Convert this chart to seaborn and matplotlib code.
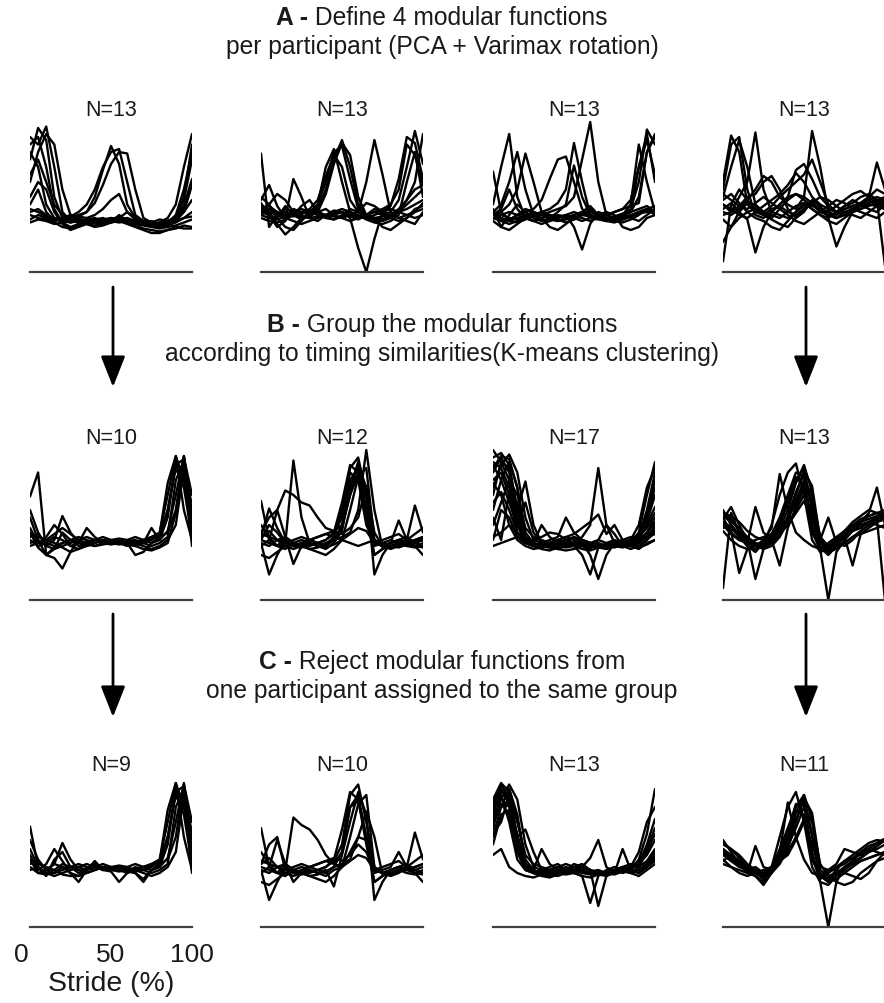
import pandas as pd
import matplotlib
matplotlib.use('Agg')
import matplotlib.pyplot as plt
from matplotlib.transforms import ScaledTranslation
import seaborn as sns

# stride samples (%), every curve below is read at these points
stride = list(range(0, 101, 5))

# A - 4 modular functions per participant
a1 = [
    [75, 96, 88, 50, 36, 33, 34, 32, 33, 35, 36, 34, 33, 32, 33, 34, 32, 33, 38, 55, 80],
    [90, 85, 97, 70, 40, 34, 33, 35, 36, 34, 35, 37, 35, 33, 32, 31, 33, 36, 45, 70, 92],
    [60, 80, 92, 85, 55, 38, 34, 33, 34, 33, 36, 35, 34, 33, 34, 33, 32, 34, 36, 42, 60],
    [85, 90, 70, 42, 33, 30, 32, 34, 35, 36, 34, 33, 34, 35, 33, 32, 30, 31, 33, 36, 40],
    [45, 55, 40, 34, 35, 36, 38, 40, 50, 68, 84, 72, 45, 36, 33, 32, 31, 33, 34, 40, 58],
    [40, 42, 38, 36, 35, 37, 40, 45, 55, 70, 80, 82, 60, 38, 34, 33, 32, 34, 36, 48, 75],
    [38, 36, 35, 34, 36, 38, 37, 40, 46, 58, 72, 80, 79, 55, 36, 33, 31, 32, 35, 50, 85],
    [42, 40, 37, 35, 34, 36, 37, 36, 38, 42, 48, 52, 40, 35, 34, 33, 35, 34, 36, 44, 62],
    [35, 38, 36, 33, 30, 29, 31, 34, 35, 34, 33, 38, 34, 32, 31, 30, 29, 30, 31, 33, 35],
    [80, 70, 45, 36, 34, 33, 35, 34, 33, 35, 34, 36, 40, 36, 33, 31, 30, 32, 34, 36, 37],
    [50, 60, 55, 40, 32, 28, 30, 32, 31, 33, 34, 35, 33, 31, 29, 28, 27, 28, 29, 31, 30],
    [33, 35, 34, 32, 33, 35, 36, 34, 33, 32, 33, 35, 36, 34, 33, 32, 33, 34, 36, 40, 48],
    [65, 75, 60, 45, 38, 35, 33, 32, 30, 31, 33, 34, 32, 30, 28, 26, 26, 28, 30, 29, 29],
]
a2 = [
    [79, 30, 38, 42, 40, 38, 36, 37, 38, 40, 42, 40, 37, 36, 38, 40, 44, 62, 90, 86, 62],
    [48, 58, 44, 36, 62, 50, 36, 34, 38, 41, 40, 37, 35, 38, 40, 38, 40, 48, 70, 94, 72],
    [42, 45, 52, 48, 40, 37, 36, 45, 70, 82, 60, 40, 36, 38, 40, 42, 45, 55, 85, 78, 58],
    [40, 38, 36, 44, 38, 35, 38, 42, 55, 75, 88, 70, 45, 38, 36, 35, 37, 40, 48, 60, 92],
    [38, 36, 35, 37, 40, 42, 40, 45, 60, 80, 84, 62, 42, 37, 35, 34, 36, 40, 45, 50, 55],
    [44, 40, 38, 40, 38, 36, 37, 40, 52, 72, 86, 78, 50, 38, 36, 37, 38, 40, 42, 45, 48],
    [36, 34, 33, 35, 38, 40, 42, 48, 64, 78, 70, 48, 40, 60, 88, 65, 40, 36, 38, 40, 42],
    [40, 42, 40, 38, 37, 39, 41, 40, 38, 39, 40, 36, 16, 0, 22, 40, 42, 40, 38, 36, 38],
    [42, 40, 32, 25, 30, 36, 38, 40, 37, 35, 38, 42, 40, 36, 34, 35, 38, 42, 48, 55, 58],
    [50, 45, 36, 30, 28, 34, 40, 38, 36, 38, 40, 38, 36, 38, 42, 40, 36, 34, 36, 40, 46],
    [40, 44, 40, 36, 34, 32, 34, 36, 38, 37, 36, 38, 40, 46, 44, 40, 38, 36, 34, 32, 40],
    [46, 38, 30, 34, 42, 40, 38, 40, 42, 38, 36, 34, 36, 38, 36, 30, 28, 32, 36, 42, 44],
    [38, 42, 38, 36, 38, 44, 48, 40, 36, 35, 37, 40, 38, 35, 33, 32, 34, 38, 60, 80, 50],
]
a3 = [
    [45, 70, 92, 50, 36, 34, 36, 38, 37, 36, 38, 40, 38, 36, 35, 37, 39, 40, 42, 44, 40],
    [40, 45, 60, 80, 55, 38, 35, 34, 36, 38, 40, 38, 37, 36, 38, 40, 42, 48, 70, 92, 60],
    [38, 40, 45, 55, 79, 60, 40, 35, 34, 36, 38, 40, 36, 35, 34, 36, 38, 42, 60, 95, 85],
    [67, 40, 35, 38, 40, 42, 48, 62, 75, 77, 60, 42, 38, 36, 35, 34, 36, 38, 40, 42, 38],
    [36, 34, 32, 34, 36, 38, 40, 42, 46, 55, 86, 60, 38, 36, 34, 35, 37, 40, 70, 88, 65],
    [38, 36, 34, 33, 35, 37, 38, 40, 42, 44, 50, 75, 100, 60, 38, 36, 38, 40, 50, 80, 90],
    [36, 35, 34, 36, 37, 38, 40, 38, 36, 38, 30, 15, 32, 40, 38, 36, 35, 37, 40, 42, 40],
    [40, 38, 36, 35, 38, 40, 38, 36, 40, 45, 71, 50, 38, 36, 34, 36, 38, 45, 85, 60, 40],
    [34, 30, 28, 32, 36, 38, 36, 30, 28, 32, 36, 38, 40, 38, 36, 34, 33, 35, 38, 42, 44],
    [42, 30, 38, 45, 40, 36, 34, 36, 38, 37, 35, 40, 44, 38, 36, 37, 38, 36, 34, 38, 42],
    [38, 42, 55, 42, 36, 34, 32, 34, 36, 38, 36, 34, 36, 38, 40, 38, 30, 28, 30, 36, 38],
    [36, 38, 40, 38, 36, 34, 36, 38, 35, 33, 35, 38, 42, 36, 34, 33, 35, 37, 39, 40, 41],
    [40, 36, 34, 38, 42, 40, 38, 36, 34, 35, 37, 36, 34, 36, 38, 40, 42, 44, 46, 80, 92],
]
a4 = [
    [60, 91, 80, 45, 40, 38, 42, 44, 40, 38, 42, 45, 40, 38, 36, 40, 42, 45, 48, 44, 42],
    [55, 85, 90, 55, 38, 36, 40, 45, 50, 52, 48, 44, 42, 40, 38, 42, 44, 46, 50, 55, 52],
    [50, 70, 88, 70, 45, 40, 38, 36, 40, 44, 46, 42, 38, 36, 40, 44, 48, 45, 42, 40, 45],
    [45, 40, 50, 60, 93, 55, 40, 38, 36, 40, 44, 46, 42, 38, 36, 38, 40, 44, 46, 48, 50],
    [40, 38, 42, 48, 55, 64, 60, 50, 45, 42, 50, 94, 70, 40, 36, 38, 40, 42, 45, 44, 42],
    [7, 45, 55, 48, 42, 40, 44, 50, 55, 60, 65, 75, 60, 45, 40, 38, 42, 44, 46, 48, 46],
    [42, 46, 40, 35, 13, 30, 40, 45, 50, 68, 72, 62, 50, 44, 40, 42, 44, 46, 48, 50, 48],
    [38, 40, 44, 50, 52, 60, 64, 55, 42, 36, 40, 48, 44, 36, 17, 30, 40, 46, 50, 73, 55],
    [45, 42, 38, 36, 40, 44, 48, 52, 58, 66, 60, 50, 45, 42, 40, 44, 46, 50, 52, 48, 4],
    [20, 30, 36, 40, 42, 38, 35, 32, 30, 36, 42, 46, 50, 48, 44, 40, 38, 36, 40, 44, 46],
    [48, 52, 46, 40, 36, 34, 30, 28, 34, 40, 46, 42, 38, 34, 32, 36, 40, 42, 44, 46, 48],
    [35, 30, 40, 46, 44, 40, 36, 42, 48, 52, 50, 46, 42, 40, 44, 48, 52, 54, 50, 46, 44],
    [52, 48, 44, 42, 46, 50, 46, 42, 38, 34, 32, 36, 40, 44, 48, 46, 42, 40, 38, 36, 40],
]

# B - grouped by timing (K-means)
b1 = [
    [69, 85, 30, 35, 38, 40, 38, 39, 40, 39, 38, 37, 38, 39, 40, 42, 45, 70, 96, 60, 40],
    [60, 45, 36, 40, 56, 45, 38, 36, 38, 40, 39, 38, 37, 38, 40, 41, 42, 60, 90, 94, 50],
    [55, 40, 30, 34, 45, 40, 36, 38, 40, 39, 38, 40, 39, 37, 38, 40, 44, 78, 96, 80, 45],
    [48, 38, 42, 50, 44, 36, 38, 48, 42, 38, 40, 38, 37, 36, 38, 48, 40, 46, 70, 96, 58],
    [45, 35, 30, 28, 21, 32, 40, 42, 40, 38, 37, 38, 39, 40, 38, 36, 38, 42, 80, 92, 62],
    [42, 44, 38, 36, 38, 40, 42, 40, 38, 40, 39, 38, 40, 42, 40, 38, 40, 55, 92, 85, 50],
    [40, 36, 38, 42, 40, 36, 34, 36, 38, 40, 38, 40, 38, 30, 32, 38, 42, 45, 60, 95, 70],
    [38, 40, 36, 34, 36, 38, 40, 38, 36, 38, 40, 41, 40, 38, 36, 34, 36, 40, 50, 88, 36],
    [44, 42, 40, 38, 35, 32, 34, 38, 40, 42, 40, 38, 36, 38, 40, 42, 44, 60, 88, 75, 42],
    [36, 38, 40, 44, 48, 44, 40, 37, 36, 37, 38, 39, 38, 36, 34, 33, 35, 38, 58, 96, 55],
]
b2 = [
    [40, 50, 45, 38, 93, 55, 38, 36, 35, 37, 40, 38, 36, 38, 40, 38, 36, 35, 37, 38, 40],
    [45, 55, 60, 73, 70, 65, 63, 55, 48, 46, 50, 70, 84, 60, 36, 38, 40, 38, 36, 38, 42],
    [66, 40, 36, 42, 38, 36, 37, 38, 40, 44, 55, 88, 95, 70, 40, 36, 38, 40, 42, 38, 36],
    [38, 17, 30, 40, 36, 35, 36, 38, 40, 45, 65, 90, 85, 55, 30, 34, 38, 40, 38, 40, 42],
    [42, 61, 48, 38, 36, 38, 40, 38, 37, 42, 60, 85, 80, 50, 38, 36, 38, 53, 40, 38, 40],
    [36, 40, 60, 42, 24, 36, 38, 36, 38, 40, 48, 70, 90, 75, 17, 30, 38, 40, 38, 36, 35],
    [40, 38, 36, 38, 40, 42, 40, 38, 36, 40, 42, 45, 60, 100, 60, 35, 36, 38, 40, 44, 48],
    [44, 42, 40, 38, 36, 38, 40, 42, 44, 46, 44, 48, 55, 76, 45, 36, 34, 36, 40, 63, 45],
    [30, 28, 32, 36, 38, 36, 34, 35, 37, 40, 50, 80, 88, 60, 30, 34, 36, 38, 36, 35, 38],
    [50, 42, 36, 34, 38, 40, 38, 36, 34, 38, 46, 75, 92, 68, 38, 36, 35, 37, 38, 40, 42],
    [38, 36, 40, 42, 38, 36, 34, 32, 30, 34, 40, 60, 82, 88, 40, 36, 38, 40, 42, 38, 36],
    [42, 46, 40, 36, 34, 36, 40, 42, 44, 42, 40, 44, 48, 46, 38, 40, 42, 44, 40, 36, 30],
]
b3 = [
    [95, 98, 90, 60, 40, 36, 38, 36, 35, 37, 38, 36, 35, 37, 36, 38, 36, 38, 45, 70, 92],
    [88, 96, 94, 75, 45, 38, 36, 38, 40, 38, 36, 38, 37, 35, 36, 37, 38, 40, 50, 75, 88],
    [100, 92, 80, 50, 38, 36, 35, 37, 38, 40, 38, 36, 37, 38, 36, 35, 37, 38, 42, 60, 85],
    [75, 90, 97, 85, 55, 40, 38, 36, 35, 36, 38, 40, 38, 36, 35, 37, 38, 40, 44, 55, 75],
    [80, 85, 70, 45, 38, 36, 37, 38, 40, 42, 40, 38, 36, 35, 34, 36, 38, 40, 42, 50, 62],
    [70, 92, 88, 60, 79, 50, 38, 36, 35, 36, 37, 38, 36, 35, 36, 38, 40, 42, 40, 45, 55],
    [90, 80, 65, 50, 65, 45, 38, 36, 37, 38, 36, 34, 33, 35, 36, 38, 37, 36, 38, 42, 48],
    [85, 95, 85, 55, 40, 38, 50, 42, 38, 36, 38, 40, 38, 36, 35, 37, 38, 36, 40, 58, 80],
    [60, 80, 92, 75, 42, 36, 34, 33, 35, 38, 42, 40, 38, 36, 37, 38, 40, 38, 36, 40, 50],
    [55, 40, 72, 65, 40, 36, 38, 40, 42, 55, 45, 40, 38, 36, 34, 36, 38, 40, 42, 48, 58],
    [40, 60, 55, 42, 38, 40, 42, 45, 44, 40, 38, 36, 34, 40, 50, 44, 36, 34, 36, 40, 45],
    [78, 70, 50, 40, 36, 34, 35, 38, 40, 38, 36, 30, 17, 35, 38, 40, 38, 36, 38, 44, 52],
    [42, 45, 50, 45, 40, 38, 36, 35, 34, 36, 38, 42, 50, 88, 50, 38, 36, 38, 40, 42, 44],
    [36, 38, 40, 42, 38, 36, 35, 36, 38, 40, 42, 38, 30, 14, 30, 38, 40, 36, 34, 38, 40],
    [65, 72, 60, 45, 40, 38, 36, 37, 40, 42, 44, 48, 52, 57, 44, 50, 40, 36, 35, 37, 40],
    [92, 88, 75, 50, 42, 38, 36, 35, 34, 33, 34, 36, 38, 40, 38, 36, 35, 37, 40, 52, 70],
    [50, 65, 80, 70, 48, 42, 40, 38, 36, 35, 36, 37, 36, 35, 37, 38, 39, 40, 41, 43, 46],
]
b4 = [
    [8, 58, 45, 36, 32, 38, 50, 70, 85, 91, 70, 40, 32, 34, 40, 44, 46, 48, 52, 55, 56],
    [60, 50, 42, 38, 36, 40, 48, 84, 60, 45, 40, 36, 34, 38, 42, 46, 50, 52, 54, 56, 58],
    [55, 45, 40, 38, 62, 45, 40, 50, 65, 80, 88, 60, 35, 30, 36, 42, 48, 50, 52, 54, 55],
    [52, 48, 42, 36, 34, 38, 44, 55, 70, 85, 82, 50, 32, 36, 40, 44, 46, 50, 52, 50, 48],
    [58, 54, 46, 40, 36, 34, 40, 48, 60, 78, 90, 72, 36, 32, 38, 44, 48, 52, 56, 58, 57],
    [50, 46, 18, 34, 38, 36, 42, 52, 66, 82, 75, 45, 34, 0, 32, 40, 46, 50, 52, 54, 55],
    [56, 52, 48, 42, 38, 34, 36, 42, 52, 70, 86, 76, 40, 55, 38, 36, 40, 46, 50, 52, 54],
    [48, 50, 44, 40, 14, 34, 38, 44, 56, 72, 84, 62, 34, 36, 40, 44, 48, 52, 58, 75, 50],
    [54, 62, 50, 40, 36, 38, 42, 46, 54, 66, 80, 70, 42, 34, 36, 38, 42, 46, 50, 54, 0],
    [46, 40, 36, 34, 36, 38, 40, 23, 48, 62, 74, 55, 38, 34, 38, 42, 23, 44, 48, 52, 54],
    [52, 48, 44, 40, 38, 36, 40, 44, 50, 60, 70, 58, 40, 32, 34, 38, 42, 44, 46, 48, 50],
    [58, 56, 52, 46, 42, 40, 42, 46, 50, 58, 66, 54, 38, 34, 38, 44, 50, 54, 56, 58, 60],
    [50, 44, 40, 38, 40, 42, 44, 48, 55, 64, 78, 66, 42, 36, 40, 46, 52, 56, 60, 58, 56],
]

# C - after rejecting duplicates from one participant
c1 = [
    [67, 40, 36, 38, 42, 40, 38, 39, 40, 39, 38, 37, 38, 39, 40, 42, 45, 70, 96, 60, 38],
    [58, 45, 38, 42, 56, 45, 38, 36, 38, 40, 39, 38, 37, 38, 40, 41, 42, 60, 90, 94, 50],
    [52, 40, 34, 45, 50, 40, 36, 38, 40, 39, 38, 40, 39, 37, 38, 40, 44, 78, 96, 80, 45],
    [48, 38, 42, 52, 44, 36, 30, 38, 42, 38, 40, 38, 37, 36, 30, 38, 40, 46, 70, 96, 58],
    [45, 36, 35, 36, 40, 38, 40, 42, 40, 38, 37, 30, 36, 40, 38, 36, 38, 42, 80, 92, 62],
    [42, 44, 38, 36, 38, 40, 42, 40, 38, 40, 39, 38, 40, 42, 40, 38, 40, 55, 92, 85, 50],
    [40, 36, 38, 42, 40, 36, 34, 36, 38, 40, 38, 40, 38, 36, 32, 38, 42, 45, 60, 95, 70],
    [38, 40, 36, 34, 36, 38, 40, 38, 44, 38, 40, 41, 40, 38, 36, 34, 36, 40, 50, 88, 36],
    [44, 42, 40, 38, 35, 34, 34, 38, 40, 42, 40, 38, 36, 38, 40, 42, 44, 60, 88, 75, 42],
]
c2 = [
    [66, 40, 36, 42, 38, 36, 37, 38, 40, 44, 55, 88, 95, 70, 40, 36, 38, 40, 42, 38, 36],
    [38, 18, 30, 40, 36, 35, 36, 38, 40, 45, 65, 90, 85, 55, 30, 34, 38, 40, 38, 40, 42],
    [42, 55, 60, 38, 73, 68, 65, 58, 48, 42, 50, 80, 84, 60, 36, 38, 40, 50, 40, 38, 40],
    [36, 40, 58, 42, 30, 36, 38, 36, 38, 27, 48, 70, 90, 75, 18, 30, 38, 40, 38, 36, 35],
    [40, 38, 36, 38, 40, 42, 40, 38, 36, 40, 42, 45, 60, 77, 60, 35, 36, 38, 40, 44, 48],
    [44, 42, 40, 38, 36, 38, 40, 42, 44, 46, 44, 48, 55, 50, 38, 36, 34, 36, 40, 63, 45],
    [30, 28, 32, 36, 38, 36, 34, 35, 37, 40, 50, 80, 88, 60, 30, 34, 36, 38, 36, 35, 38],
    [50, 42, 36, 34, 38, 40, 38, 36, 34, 38, 40, 50, 60, 58, 38, 36, 35, 37, 38, 40, 42],
    [38, 36, 40, 42, 38, 36, 34, 32, 30, 34, 40, 60, 82, 88, 40, 36, 38, 40, 42, 38, 36],
    [42, 46, 40, 36, 34, 36, 40, 42, 44, 42, 40, 44, 48, 46, 38, 40, 42, 44, 40, 36, 30],
]
c3 = [
    [85, 96, 90, 60, 40, 36, 38, 36, 35, 37, 38, 36, 35, 37, 36, 38, 36, 38, 45, 62, 92],
    [80, 94, 92, 72, 45, 38, 36, 38, 40, 38, 36, 38, 37, 35, 36, 37, 38, 40, 50, 70, 80],
    [75, 92, 82, 50, 38, 36, 35, 37, 38, 40, 38, 36, 37, 38, 36, 35, 37, 38, 42, 55, 72],
    [70, 85, 95, 85, 55, 40, 38, 36, 35, 36, 38, 40, 38, 36, 35, 37, 38, 40, 44, 52, 66],
    [78, 88, 70, 45, 38, 36, 37, 38, 40, 42, 40, 38, 36, 35, 34, 36, 38, 40, 42, 48, 58],
    [65, 90, 88, 60, 65, 50, 38, 36, 35, 36, 37, 38, 36, 35, 36, 38, 40, 42, 40, 44, 52],
    [48, 52, 40, 36, 34, 33, 35, 36, 37, 38, 36, 34, 33, 35, 36, 38, 37, 36, 38, 42, 48],
    [82, 95, 85, 55, 40, 38, 52, 42, 38, 36, 38, 40, 38, 36, 35, 37, 38, 36, 40, 50, 62],
    [60, 80, 92, 75, 42, 36, 34, 33, 35, 38, 42, 40, 38, 36, 37, 38, 40, 38, 36, 40, 46],
    [72, 86, 80, 55, 40, 36, 38, 40, 42, 38, 36, 34, 16, 34, 38, 40, 38, 36, 38, 42, 50],
    [55, 75, 78, 62, 42, 38, 36, 35, 34, 36, 38, 40, 46, 58, 40, 36, 52, 38, 36, 40, 44],
    [68, 82, 75, 50, 40, 36, 35, 34, 36, 38, 40, 42, 38, 14, 34, 38, 40, 36, 34, 38, 42],
    [62, 70, 88, 70, 48, 42, 40, 38, 36, 35, 36, 37, 36, 35, 37, 38, 39, 40, 41, 43, 46],
]
c4 = [
    [52, 46, 42, 38, 34, 30, 40, 60, 80, 90, 70, 40, 30, 0, 30, 40, 44, 46, 50, 54, 58],
    [58, 50, 42, 36, 54, 40, 38, 50, 83, 60, 45, 36, 34, 38, 42, 52, 50, 48, 52, 56, 58],
    [48, 44, 40, 38, 36, 34, 40, 52, 66, 80, 88, 60, 35, 30, 36, 40, 42, 44, 46, 48, 50],
    [45, 40, 38, 36, 34, 28, 36, 48, 64, 82, 82, 50, 32, 36, 40, 44, 46, 50, 52, 50, 48],
    [55, 52, 46, 40, 36, 34, 38, 46, 58, 76, 88, 72, 36, 32, 38, 44, 48, 52, 56, 58, 57],
    [50, 46, 42, 38, 36, 32, 36, 46, 60, 78, 75, 45, 34, 36, 40, 42, 46, 48, 50, 52, 55],
    [56, 52, 48, 42, 38, 34, 36, 42, 52, 70, 86, 76, 40, 38, 38, 36, 34, 32, 36, 44, 50],
    [44, 48, 44, 40, 38, 32, 38, 44, 56, 72, 84, 62, 34, 30, 32, 36, 40, 44, 46, 48, 50],
    [50, 44, 42, 38, 40, 36, 40, 44, 54, 66, 80, 70, 42, 34, 36, 38, 42, 46, 50, 54, 58],
    [42, 40, 36, 34, 36, 38, 40, 44, 48, 58, 70, 55, 38, 34, 30, 28, 30, 36, 40, 44, 46],
    [52, 48, 44, 40, 38, 36, 40, 44, 50, 60, 72, 48, 30, 28, 34, 38, 44, 50, 54, 56, 59],
]

panels = [[a1, a2, a3, a4], [b1, b2, b3, b4], [c1, c2, c3, c4]]
headers = [
    ("A -", " Define 4 modular functions", "per participant (PCA + Varimax rotation)"),
    ("B -", " Group the modular functions", "according to timing similarities(K-means clustering)"),
    ("C -", " Reject modular functions from", "one participant assigned to the same group"),
]

W, H = 884, 1004
col_left = [30, 261, 493, 723]
row_axis = [273, 601, 928]
header_y = [(18, 47), (325, 354), (662, 691)]
arrow_x = [113, 806]
arrow_y = [(288, 388), (615, 718)]
axis_col = '#404040'
text_col = '#1a1a1a'

sns.set_style('white')
plt.rcParams['font.family'] = ['Liberation Sans', 'DejaVu Sans']

fig = plt.figure(figsize=(W / 100, H / 100), dpi=100)

for r, row in enumerate(panels):
    for c, curves in enumerate(row):
        ax = fig.add_axes([col_left[c] / W, (H - row_axis[r]) / H, 162 / W, 153 / H])
        df = pd.DataFrame([(i, s, v) for i, cur in enumerate(curves)
                           for s, v in zip(stride, cur)],
                          columns=['curve', 'stride', 'act'])
        sns.lineplot(data=df, x='stride', y='act', units='curve', estimator=None,
                     color='black', lw=1.7, ax=ax, legend=False)
        ax.set_xlim(0, 100)
        ax.set_ylim(0, 102)
        for s in ['left', 'right', 'top']:
            ax.spines[s].set_visible(False)
        ax.spines['bottom'].set_color(axis_col)
        ax.spines['bottom'].set_linewidth(1.6)
        ax.set_yticks([])
        ax.set_xticks([0, 50, 100])
        ax.tick_params(axis='x', direction='in', length=2, width=1, color=axis_col,
                       labelsize=19, pad=11, labelcolor=text_col)
        ax.set_ylabel('')
        ax.text(0.5, 1.06, f"N={len(curves)}", transform=ax.transAxes,
                ha='center', va='center', fontsize=15.5, color=text_col)
        if r == 2 and c == 0:
            ax.set_xlabel('Stride (%)', fontsize=20.5, labelpad=3, color=text_col)
            lab0 = ax.get_xticklabels()[0]
            lab0.set_transform(lab0.get_transform() +
                               ScaledTranslation(-0.09, 0, fig.dpi_scale_trans))
        else:
            ax.set_xticklabels([])
            ax.set_xlabel('')

# header texts: bold letter + plain text, centred as one line
renderer = fig.canvas.get_renderer()
for (bold, rest, line2), (y1, y2) in zip(headers, header_y):
    t1 = fig.text(0, 1 - y1 / H, bold, fontweight='bold', fontsize=17.7, va='center', color=text_col)
    t2 = fig.text(0, 1 - y1 / H, rest, fontsize=17.7, va='center', color=text_col)
    w1 = t1.get_window_extent(renderer).width
    w2 = t2.get_window_extent(renderer).width
    x0 = W / 2 - (w1 + w2) / 2
    t1.set_x(x0 / W)
    t2.set_x((x0 + w1) / W)
    fig.text(0.5, 1 - y2 / H, line2, fontsize=17.7, ha='center', va='center', color=text_col)

# arrows between the stages
for ys, ye in arrow_y:
    for ax_x in arrow_x:
        fig.add_artist(matplotlib.patches.FancyArrowPatch(
            (ax_x / W, 1 - ys / H), (ax_x / W, 1 - ye / H), transform=fig.transFigure,
            arrowstyle='-|>,head_length=1.9,head_width=0.75', mutation_scale=10,
            lw=2, color='black', shrinkA=0, shrinkB=0))

fig.savefig('out.png', dpi=100)
